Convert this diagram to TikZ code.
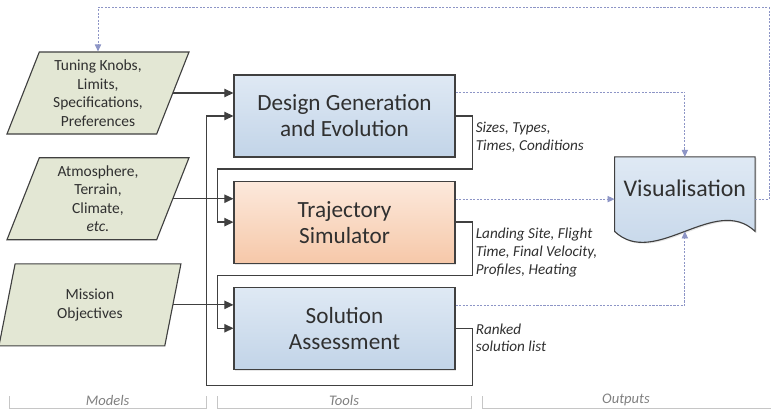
\documentclass[tikz,border=0pt]{standalone}
\usepackage{fontspec}
\setmainfont{Carlito}
\usepackage{tikz}
\usetikzlibrary{shapes.geometric, arrows.meta, positioning, calc, backgrounds, shadows}
\definecolor{modelfill}{HTML}{E3E7D4}
\definecolor{edgec}{HTML}{404040}
\definecolor{blueT}{HTML}{DFE9F4}
\definecolor{blueB}{HTML}{C2D4E8}
\definecolor{peachT}{HTML}{FCE9DC}
\definecolor{peachB}{HTML}{F6C8A9}
\definecolor{linkc}{HTML}{8D95C6}
\definecolor{txtc}{HTML}{303030}

\begin{document}
\begin{tikzpicture}[
    model/.style={trapezium, trapezium left angle=65, trapezium right angle=115, trapezium stretches body=true, minimum width=4.55cm, minimum height=2.05cm, inner sep=1pt, align=center, draw=edgec, line width=0.8pt, fill=modelfill, text=txtc, font=\fontsize{11}{13.2}\selectfont},
    tool/.style={rectangle, minimum width=5.525cm, minimum height=2.05cm, align=center, draw=edgec, line width=0.8pt, text=txtc, font=\fontsize{16.5}{18.5}\selectfont, drop shadow={opacity=0.2, shadow xshift=1pt, shadow yshift=-1pt}},
    note/.style={align=left, inner sep=0pt, text=txtc, font=\fontsize{10.8}{12.6}\selectfont\itshape},
    stage/.style={text=gray, font=\fontsize{10.4}{12}\selectfont\itshape},
    arrow/.style={line width=0.9pt, draw=edgec, -{Triangle[length=6.5pt, width=6pt]}},
    link/.style={line width=0.6pt, color=linkc, dash pattern=on 1.5pt off 1pt, -{Triangle[length=5pt, width=4.5pt]}}
]
\useasboundingbox (0,0) rectangle (19.325,-10.225);
\node (des) [tool, top color=blueT, bottom color=blueB] at (8.6125,-2.9) {Design Generation\\and Evolution};
\node (traj) [tool, top color=peachT, bottom color=peachB, below=0.575cm of des] {Trajectory\\Simulator};
\node (sol) [tool, top color=blueT, bottom color=blueB, below=0.575cm of traj] {Solution\\Assessment};
\node (tune) [model, left=1.5cm of des, yshift=0.575cm] {Tuning Knobs,\\Limits,\\Specifications,\\Preferences};
\node (atmo) [model, left=1.5cm of traj, yshift=0.585cm] {Atmosphere,\\Terrain,\\Climate,\\\textit{etc.}};
\node (miss) [model, left=1.5cm of sol, yshift=0.585cm] {Mission\\Objectives};
\node (vis) [minimum width=3.5cm, minimum height=1.85cm, text depth=0.3cm, text=txtc, font=\fontsize{17}{20}\selectfont, right=3.975cm of traj, yshift=0.7cm] {Visualisation};
\begin{pgfonlayer}{background}
\draw [edgec, line width=0.8pt, top color=blueT, bottom color=blueB, drop shadow={opacity=0.2, shadow xshift=1pt, shadow yshift=-1pt}] (vis.north west) -- (vis.north east) -- (vis.south east) .. controls ($(vis.south east)+(-1,0.95)$) and ($(vis.south west)+(1,-0.95)$) .. (vis.south west) -- cycle;
\end{pgfonlayer}
\node (sizes) [note, below right=0.15cm and 0.5cm of des.east] {Sizes, Types,\\Times, Conditions};
\node (landing) [note, below right=0.15cm and 0.5cm of traj.east] {Landing Site, Flight\\Time, Final Velocity,\\Profiles, Heating};
\node (ranked) [note, below right=-0.12cm and 0.5cm of sol.east] {Ranked\\solution list};
\draw [arrow] (tune.east) -- (tune.east -| des.west);
\draw [arrow] (atmo.east) -- (atmo.east -| traj.west);
\draw [arrow] (miss.east) -- (miss.east -| sol.west);
\draw [arrow] (des.east) -- ++(0.425,0) |- ($(des.south west)!0.5!(traj.north west)+(-0.4,0)$) |- (traj.west);
\draw [arrow] (traj.east) -- ++(0.425,0) |- ($(traj.south west)!0.5!(sol.north west)+(-0.4,0)$) |- (sol.west);
\draw [arrow] (sol.east) -- ++(0.425,0) |- ($(sol.south west)+(-0.675,-0.4)$) |- (des.west);
\coordinate (desout) at ($(des.east)+(0,0.6)$);
\coordinate (trajout) at ($(traj.east)+(0,0.575)$);
\coordinate (solout) at ($(sol.east)+(0,0.575)$);
\coordinate (visout) at ($(vis.east)+(0,-0.125)$);
\coordinate (tunein) at (tune.center |- tune.north);
\draw [link] (desout) -| (vis.north);
\draw [link] (trajout) -- (trajout -| vis.west);
\draw [link] (solout) -| (vis.south);
\draw [link] (visout) -- ++(0.35,0) |- ($(tunein)+(0,1.1)$) -- (tunein);
\draw [gray!45] (0.225,-9.9) -- (0.225,-10.2) -- (5.15,-10.2) -- (5.15,-9.9);
\draw [gray!45] (5.425,-9.9) -- (5.425,-10.2) -- (11.775,-10.2) -- (11.775,-9.9);
\draw [gray!45] (12.05,-9.9) -- (12.05,-10.2) -- (19.275,-10.2);
\node (models) [stage] at (2.69,-10.0) {Models};
\node (tools) [stage] at (8.6,-10.0) {Tools};
\node (outputs) [stage] at (15.65,-10.0) {Outputs};
\end{tikzpicture}
\end{document}
